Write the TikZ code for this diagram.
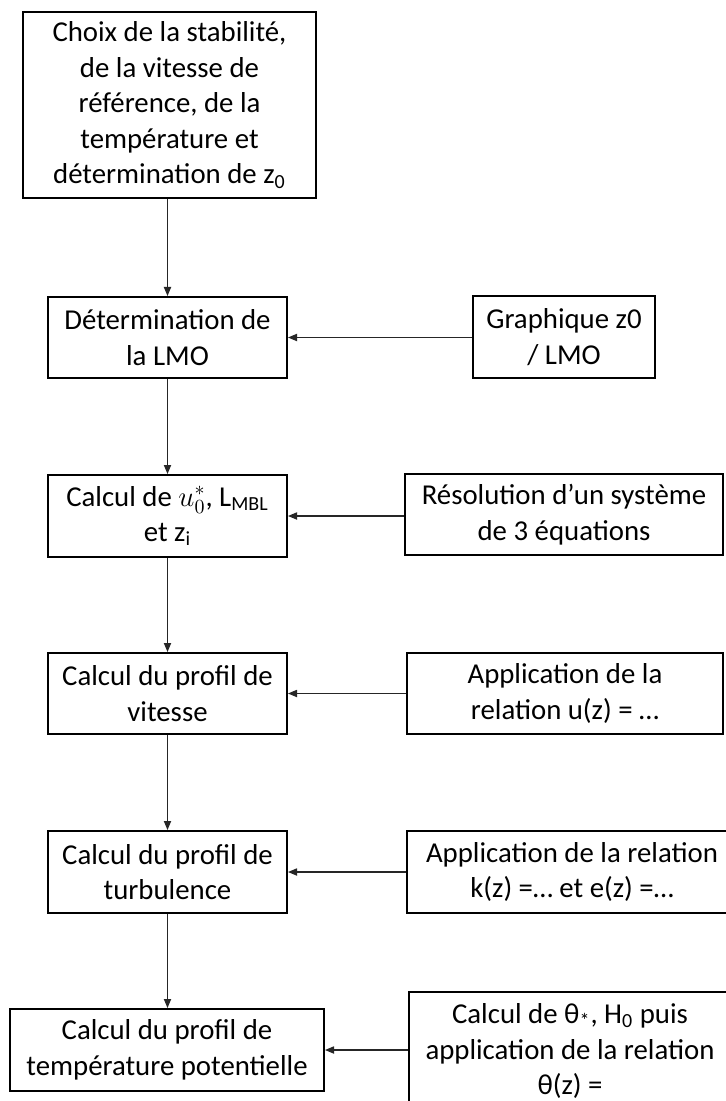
\documentclass[tikz,border=0pt]{standalone}
\usepackage{fontspec}
\setmainfont{Carlito}
\usetikzlibrary{arrows.meta}
\begin{document}
\begin{tikzpicture}[x=0.5pt,y=-0.5pt,
  box/.style={draw=black,line width=1pt,rectangle,inner sep=0pt,align=center,
    font=\fontsize{14.4}{17.8}\selectfont},
  conn/.style={draw=black!85,line width=0.55pt,-{Triangle[length=4.5pt,width=3.6pt]}}]
\useasboundingbox (0,0) rectangle (726,1101);
\fill[white] (0,0) rectangle (726,1101);
\node[box,minimum width=146.5pt,minimum height=93pt] (A) at (169.5,105)
  {Choix de la stabilité,\\ de la vitesse de\\ référence, de la\\ température et\\ détermination de z\textsubscript{0}};
\node[box,minimum width=119.5pt,minimum height=40.5pt] (B) at (167.5,337.5)
  {Détermination de\\ la LMO};
\node[box,minimum width=91pt,minimum height=41pt] (G) at (564,337)
  {Graphique z0\\ / LMO};
\node[box,minimum width=119.5pt,minimum height=41pt] (C) at (167.5,516)
  {Calcul de $u_0^*$, L\textsubscript{MBL}\\ et z\textsubscript{i}};
\node[box,minimum width=159pt,minimum height=40.5pt] (R) at (564,514.5)
  {Résolution d’un système\\ de 3 équations};
\node[box,minimum width=119.5pt,minimum height=40.5pt] (D) at (167.5,693.5)
  {Calcul du profil de\\ vitesse};
\node[box,minimum width=158pt,minimum height=40.5pt] (U) at (565,693.5)
  {Application de la\\ relation u(z) = …};
\node[box,minimum width=119.5pt,minimum height=41pt] (E) at (167.5,872)
  {Calcul du profil de\\ turbulence};
\node[box,minimum width=165pt,minimum height=41pt] (K) at (572,872)
  {Application de la relation\\ k(z) =… et e(z) =…};
\node[box,minimum width=157pt,minimum height=41pt] (F) at (167,1050)
  {Calcul du profil de\\ température potentielle};
\node[box,minimum width=161pt,minimum height=59pt] (T) at (570,1051)
  {Calcul de θ\textsubscript{*}, H\textsubscript{0} puis\\ application de la relation\\ θ(z) =};
\draw[conn] (B.north |- A.south) -- (B.north);
\draw[conn] (B.east -| G.west) -- (B.east);
\draw[conn] (B.south) -- (C.north);
\draw[conn] (C.east -| R.west) -- (C.east);
\draw[conn] (C.south) -- (D.north);
\draw[conn] (D.east -| U.west) -- (D.east);
\draw[conn] (D.south) -- (E.north);
\draw[conn] (E.east -| K.west) -- (E.east);
\draw[conn] (E.south) -- (F.north -| E.south);
\draw[conn] (F.east -| T.west) -- (F.east);
\end{tikzpicture}
\end{document}
